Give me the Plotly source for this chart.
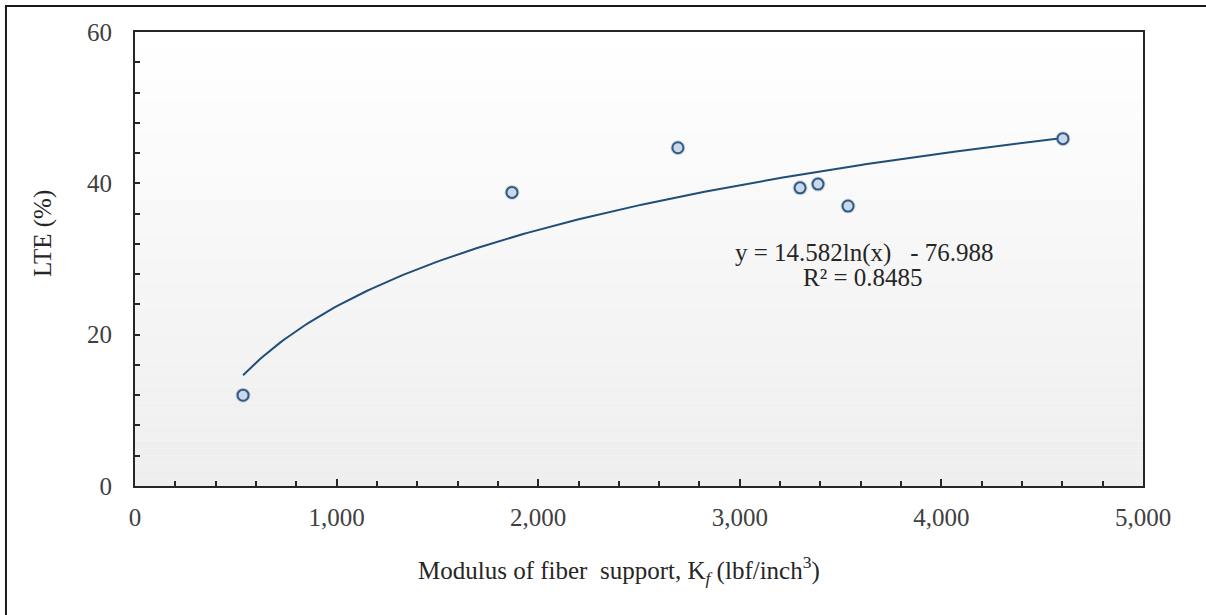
import numpy as np
import plotly.graph_objects as go

# Measured load transfer efficiency vs. modulus of fiber support
modulus_kf = [536, 1870, 2693, 3299, 3388, 3537, 4603]
lte_pct = [12.0, 38.8, 44.7, 39.4, 39.9, 37.0, 45.9]

# Logarithmic trend line: y = a ln(x) + b
fit_a = 14.582
fit_b = -76.988
fit_r2 = 0.8485

x_range = [0, 5000]
y_range = [0, 60]

SERIF = "Liberation Serif, Times New Roman, serif"
AXIS_COLOR = "#262626"
TICK_TEXT = "#404040"
TEXT = "#262626"

fig = go.Figure()

# Trend line across the span of the measurements
xt = np.linspace(min(modulus_kf), max(modulus_kf), 200)
yt = fit_a * np.log(xt) + fit_b
fig.add_trace(go.Scatter(
    x=xt, y=yt, mode="lines",
    line=dict(color="#1f4e79", width=2),
    hoverinfo="skip", showlegend=False,
))

# Soft shadow under the markers
fig.add_trace(go.Scatter(
    x=modulus_kf, y=lte_pct, mode="markers",
    marker=dict(size=15, color="rgba(60,60,60,0.18)", line=dict(width=0)),
    hoverinfo="skip", showlegend=False,
))

# Measured points
fig.add_trace(go.Scatter(
    x=modulus_kf, y=lte_pct, mode="markers",
    marker=dict(size=11, color="#cad8ea", line=dict(color="#2e5b88", width=2)),
    showlegend=False,
))

# Vertical gradient fill of the plotting area (white at top to light grey)
n_bands = 60
shapes = []
for i in range(n_bands):
    t = i / (n_bands - 1)
    c = int(round(255 - t * (255 - 238)))
    shapes.append(dict(
        type="rect", xref="x domain", yref="y domain",
        x0=0, x1=1, y0=1 - (i + 1) / n_bands, y1=1 - i / n_bands,
        fillcolor=f"rgb({c},{c},{c})", line=dict(width=0), layer="below",
    ))

# Outer frame of the figure
shapes.append(dict(
    type="rect", xref="paper", yref="paper",
    x0=-0.128, x1=1.08, y0=-0.32, y1=1.0573,
    line=dict(color="#1a1a1a", width=2), fillcolor="rgba(0,0,0,0)", layer="above",
))

annotations = [
    dict(
        text="y = 14.582ln(x)   - 76.988", x=3620, y=30.8, xref="x", yref="y",
        xanchor="center", yanchor="middle",
        showarrow=False, font=dict(family=SERIF, size=25, color=TEXT),
    ),
    dict(
        text=f"R² = {fit_r2}", x=3610, y=27.6, xref="x", yref="y",
        xanchor="center", yanchor="middle",
        showarrow=False, font=dict(family=SERIF, size=25, color=TEXT),
    ),
    dict(
        text="Modulus of fiber  support, K<sub><i>f</i></sub> (lbf/inch<sup>3</sup>)",
        x=(619 - 135) / 1008, y=(486 - 570) / 454, xref="paper", yref="paper",
        xanchor="center", yanchor="middle",
        showarrow=False, font=dict(family=SERIF, size=25, color=TEXT),
    ),
    dict(
        text="LTE (%)", textangle=-90,
        x=(43 - 135) / 1008, y=(486 - 234) / 454, xref="paper", yref="paper",
        xanchor="center", yanchor="middle",
        showarrow=False, font=dict(family=SERIF, size=25, color=TEXT),
    ),
]

fig.update_layout(
    width=1206, height=615,
    margin=dict(l=135, r=63, t=32, b=129),
    paper_bgcolor="white",
    plot_bgcolor="rgba(0,0,0,0)",
    shapes=shapes,
    annotations=annotations,
    showlegend=False,
)

fig.update_xaxes(
    range=x_range, dtick=1000, tick0=0, tickformat=",d",
    ticks="inside", ticklen=7, tickwidth=1.5, tickcolor=AXIS_COLOR,
    minor=dict(dtick=200, ticks="inside", ticklen=5, tickwidth=1.5, tickcolor=AXIS_COLOR),
    showline=True, linecolor=AXIS_COLOR, linewidth=2, mirror=True,
    showgrid=False, zeroline=False,
    tickfont=dict(family=SERIF, size=25, color=TICK_TEXT),
    ticklabelstandoff=8,
)
fig.update_yaxes(
    range=y_range, dtick=20, tick0=0,
    ticks="inside", ticklen=5, tickwidth=1.5, tickcolor=AXIS_COLOR,
    minor=dict(dtick=4, ticks="inside", ticklen=5, tickwidth=1.5, tickcolor=AXIS_COLOR),
    showline=True, linecolor=AXIS_COLOR, linewidth=2, mirror=True,
    showgrid=False, zeroline=False,
    tickfont=dict(family=SERIF, size=25, color=TICK_TEXT),
    ticklabelstandoff=16,
)

fig.write_html("out.html")
